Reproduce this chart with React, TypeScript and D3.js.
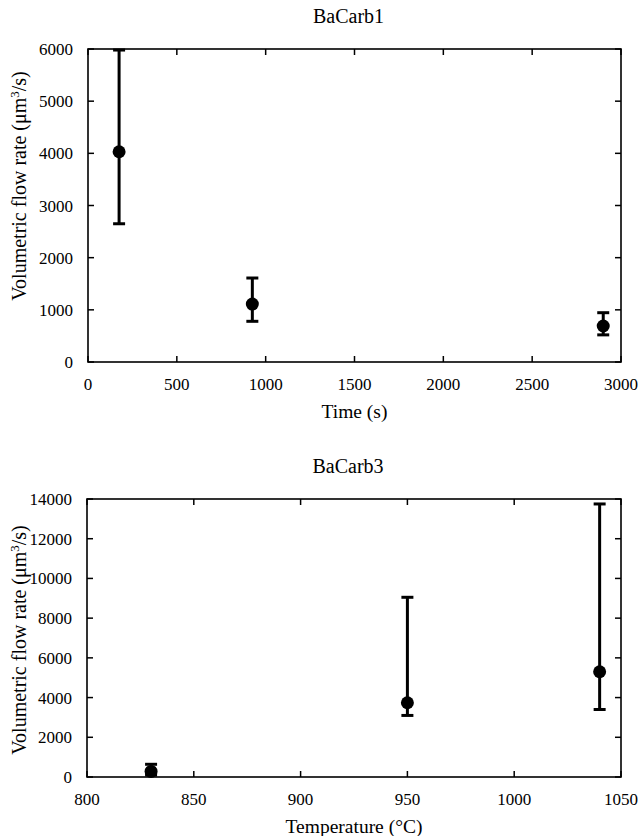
import React from "react";
import * as d3 from "d3";

// BaCarb1: flow rate vs time
const timeX = [175, 925, 2900];
const timeMean = [4030, 1110, 690];
const timeLow = [2650, 780, 520];
const timeHigh = [5980, 1610, 945];
const timeTicks = [0, 500, 1000, 1500, 2000, 2500, 3000];
const timeYTicks = [0, 1000, 2000, 3000, 4000, 5000, 6000];

// BaCarb3: flow rate vs temperature
const tempX = [830, 950, 1040];
const tempMean = [280, 3740, 5300];
const tempLow = [100, 3100, 3400];
const tempHigh = [640, 9050, 13750];
const tempTicks = [800, 850, 900, 950, 1000, 1050];
const tempYTicks = [0, 2000, 4000, 6000, 8000, 10000, 12000, 14000];

const font = "'Liberation Serif', 'Times New Roman', serif";

type PanelProps = {
  title: string;
  xLabel: string;
  left: number;
  right: number;
  top: number;
  bottom: number;
  yLabelAt: number;
  xDomain: [number, number];
  yDomain: [number, number];
  xTicks: number[];
  yTicks: number[];
  xs: number[];
  mean: number[];
  low: number[];
  high: number[];
};

function Panel(p: PanelProps) {
  const x = d3.scaleLinear().domain(p.xDomain).range([p.left, p.right]);
  const y = d3.scaleLinear().domain(p.yDomain).range([p.bottom, p.top]);
  const tick = 6;
  const cx = (p.left + p.right) / 2;
  return (
    <g fontFamily={font} fill="#000">
      <text x={cx - 6} y={p.top - 26} textAnchor="middle" fontSize={20}>
        {p.title}
      </text>
      <rect x={p.left} y={p.top} width={p.right - p.left} height={p.bottom - p.top}
        fill="none" stroke="#000" strokeWidth={1.6} />
      {p.xTicks.map((t) => (
        <g key={"x" + t}>
          <line x1={x(t)} x2={x(t)} y1={p.bottom} y2={p.bottom - tick} stroke="#000" strokeWidth={1.5} />
          <line x1={x(t)} x2={x(t)} y1={p.top} y2={p.top + tick} stroke="#000" strokeWidth={1.5} />
          <text x={x(t)} y={p.bottom + 28} textAnchor="middle" fontSize={17}>{t}</text>
        </g>
      ))}
      {p.yTicks.map((t) => (
        <g key={"y" + t}>
          <line x1={p.left} x2={p.left + tick} y1={y(t)} y2={y(t)} stroke="#000" strokeWidth={1.5} />
          <line x1={p.right} x2={p.right - tick} y1={y(t)} y2={y(t)} stroke="#000" strokeWidth={1.5} />
          <text x={p.left - 15} y={y(t) + 6} textAnchor="end" fontSize={17}>{t}</text>
        </g>
      ))}
      <text x={cx} y={p.bottom + 56} textAnchor="middle" fontSize={19.5}>{p.xLabel}</text>
      <text transform={`translate(26,${p.yLabelAt}) rotate(-90)`} textAnchor="middle" fontSize={20}>
        Volumetric flow rate (μm<tspan dy={-7} fontSize={13}>3</tspan><tspan dy={7}>/s)</tspan>
      </text>
      {p.xs.map((v, i) => (
        <g key={"p" + i} stroke="#000" strokeWidth={3}>
          <line x1={x(v)} x2={x(v)} y1={y(p.low[i])} y2={y(p.high[i])} />
          <line x1={x(v) - 6} x2={x(v) + 6} y1={y(p.low[i])} y2={y(p.low[i])} />
          <line x1={x(v) - 6} x2={x(v) + 6} y1={y(p.high[i])} y2={y(p.high[i])} />
          <circle cx={x(v)} cy={y(p.mean[i])} r={6.5} fill="#000" stroke="none" />
        </g>
      ))}
    </g>
  );
}

export default function App() {
  return (
    <svg width={640} height={836} style={{ position: "absolute", left: 0, top: 0, background: "#fff" }}>
      <Panel title="BaCarb1" xLabel="Time (s)" left={88} right={621} top={49} bottom={362} yLabelAt={186}
        xDomain={[0, 3000]} yDomain={[0, 6000]} xTicks={timeTicks} yTicks={timeYTicks}
        xs={timeX} mean={timeMean} low={timeLow} high={timeHigh} />
      <Panel title="BaCarb3" xLabel="Temperature (°C)" left={87} right={621} top={499} bottom={777} yLabelAt={640}
        xDomain={[800, 1050]} yDomain={[0, 14000]} xTicks={tempTicks} yTicks={tempYTicks}
        xs={tempX} mean={tempMean} low={tempLow} high={tempHigh} />
    </svg>
  );
}
